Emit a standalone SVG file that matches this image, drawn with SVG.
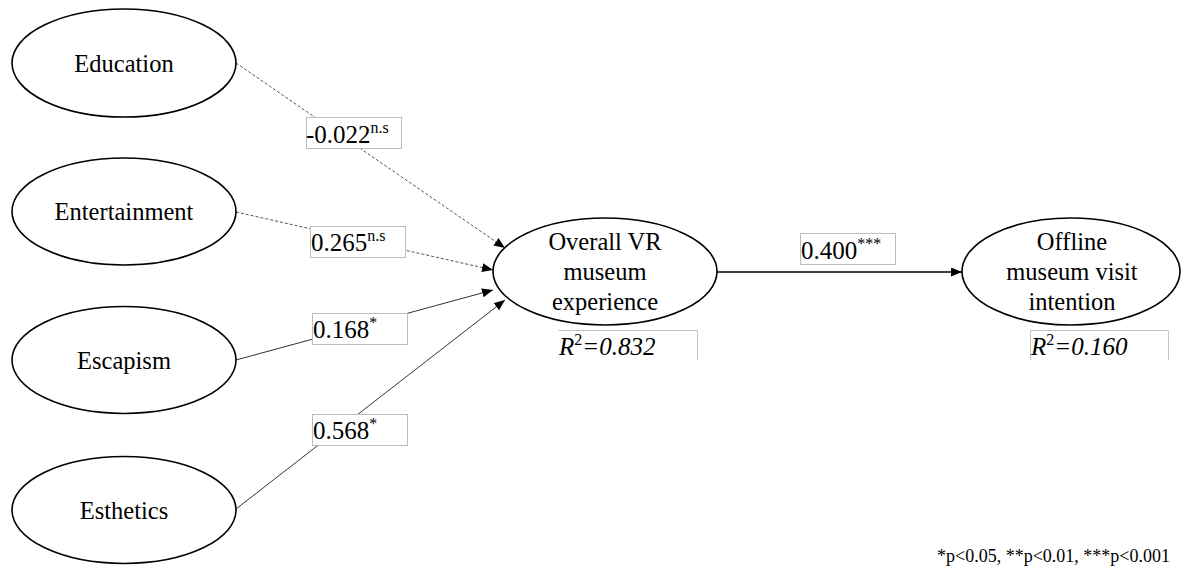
<svg xmlns="http://www.w3.org/2000/svg" width="1182" height="576" viewBox="0 0 1182 576">
  <style>
    .node ellipse { fill: #ffffff; stroke: #000000; stroke-width: 1.6; }
    .ntext { font-family: "Liberation Serif", "Times New Roman", serif; font-size: 24.5px; fill: #000000; text-anchor: middle; }
    .coef { font-family: "Liberation Serif", "Times New Roman", serif; font-size: 25px; fill: #000000; }
    .sup { font-size: 16px; }
    .box { fill: #ffffff; stroke: #bdbdbd; stroke-width: 1; }
    .rbox { fill: none; stroke: #c4c4c4; stroke-width: 1; }
    .rtext { font-family: "Liberation Serif", "Times New Roman", serif; font-size: 25px; font-style: italic; fill: #000000; }
    .dash { fill: none; stroke: #555555; stroke-width: 1; stroke-dasharray: 3 2; }
    .solid { fill: none; stroke: #333333; stroke-width: 1; }
    .main { fill: none; stroke: #000000; stroke-width: 1.3; }
    .note { font-family: "Liberation Serif", "Times New Roman", serif; font-size: 18px; fill: #000000; text-anchor: end; }
  </style>
  <defs>
    <marker id="arrow" markerUnits="userSpaceOnUse" markerWidth="12" markerHeight="10" refX="11" refY="4.5" orient="auto">
      <path d="M0,0 L11,4.5 L0,9 z" fill="#000000"/>
    </marker>
  </defs>

  <rect width="1182" height="576" fill="#ffffff"/>

  <!-- paths between constructs -->
  <g id="connectors">
    <line class="dash" x1="236" y1="63" x2="505" y2="248" marker-end="url(#arrow)"/>
    <line class="dash" x1="236" y1="212" x2="493" y2="270" marker-end="url(#arrow)"/>
    <line class="solid" x1="236" y1="360" x2="493" y2="290" marker-end="url(#arrow)"/>
    <line class="solid" x1="236" y1="509" x2="505" y2="300" marker-end="url(#arrow)"/>
    <line class="main" x1="717" y1="272" x2="962" y2="272" marker-end="url(#arrow)"/>
  </g>

  <!-- path coefficients -->
  <g id="coefficients">
    <g id="coef-education">
      <rect class="box" x="306.5" y="117.5" width="95" height="31"/>
      <text class="coef" x="306" y="143">-0.022<tspan class="sup" dy="-10">n.s</tspan></text>
    </g>
    <g id="coef-entertainment">
      <rect class="box" x="310.5" y="226.5" width="95" height="31"/>
      <text class="coef" x="311" y="251">0.265<tspan class="sup" dy="-10">n.s</tspan></text>
    </g>
    <g id="coef-escapism">
      <rect class="box" x="312.5" y="313.5" width="95" height="31"/>
      <text class="coef" x="313" y="338">0.168<tspan class="sup" dy="-10">*</tspan></text>
    </g>
    <g id="coef-esthetics">
      <rect class="box" x="312.5" y="414.5" width="95" height="31"/>
      <text class="coef" x="313" y="439">0.568<tspan class="sup" dy="-10">*</tspan></text>
    </g>
    <g id="coef-experience">
      <rect class="box" x="800.5" y="233.5" width="95" height="31"/>
      <text class="coef" x="801" y="259">0.400<tspan class="sup" dy="-10">***</tspan></text>
    </g>
  </g>

  <!-- exogenous constructs -->
  <g id="education" class="node">
    <ellipse cx="124" cy="63" rx="112" ry="54"/>
    <text class="ntext" x="124" y="72">Education</text>
  </g>
  <g id="entertainment" class="node">
    <ellipse cx="124" cy="211.5" rx="112" ry="53.5"/>
    <text class="ntext" x="124" y="220">Entertainment</text>
  </g>
  <g id="escapism" class="node">
    <ellipse cx="124" cy="360" rx="112" ry="53.5"/>
    <text class="ntext" x="124" y="369">Escapism</text>
  </g>
  <g id="esthetics" class="node">
    <ellipse cx="124" cy="510" rx="112" ry="53.5"/>
    <text class="ntext" x="124" y="519">Esthetics</text>
  </g>

  <!-- endogenous constructs -->
  <g id="vr-experience" class="node">
    <ellipse cx="605" cy="271.5" rx="112" ry="53.5"/>
    <text class="ntext" x="605" y="250">Overall VR</text>
    <text class="ntext" x="605" y="280">museum</text>
    <text class="ntext" x="605" y="310">experience</text>
    <path class="rbox" d="M558.5,330.5 H697.5 V360"/>
    <text class="rtext" x="559" y="355">R<tspan class="sup" font-style="normal" dy="-10">2</tspan><tspan dy="10">=0.832</tspan></text>
  </g>
  <g id="visit-intention" class="node">
    <ellipse cx="1071" cy="271.5" rx="109" ry="53.5"/>
    <text class="ntext" x="1072" y="250">Offline</text>
    <text class="ntext" x="1072" y="280">museum visit</text>
    <text class="ntext" x="1072" y="310">intention</text>
    <path class="rbox" d="M1030.5,360 V330.5 H1168.5 V360"/>
    <text class="rtext" x="1031" y="355">R<tspan class="sup" font-style="normal" dy="-10">2</tspan><tspan dy="10">=0.160</tspan></text>
  </g>

  <text class="note" x="1170" y="562">*p&lt;0.05, **p&lt;0.01, ***p&lt;0.001</text>
</svg>
